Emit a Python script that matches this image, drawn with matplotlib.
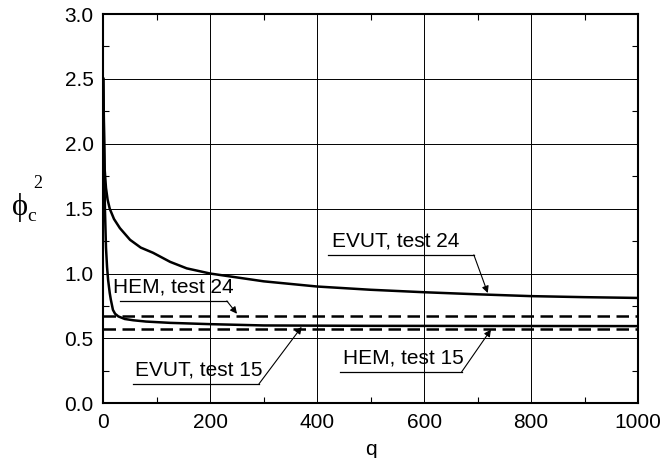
import matplotlib
matplotlib.use('Agg')
import matplotlib.pyplot as plt
from matplotlib.ticker import MultipleLocator

plt.rcParams['font.family'] = ['Liberation Sans', 'DejaVu Sans']

# EVUT, test 24 (solid)
q_evut24 = [0, 1, 2.6, 5, 8, 12, 20, 31, 50, 70, 93, 125, 156, 200,
            300, 400, 500, 600, 700, 800, 900, 1000]
phi_evut24 = [2.5, 2.2, 1.8, 1.66, 1.57, 1.5, 1.42, 1.35, 1.26, 1.2, 1.16,
              1.09, 1.04, 1.0, 0.94, 0.9, 0.875, 0.856, 0.84, 0.826, 0.818, 0.812]

# EVUT, test 15 (solid)
q_evut15 = [0, 1, 2, 3, 5, 7, 9, 12, 14, 18, 22, 28, 40, 56, 80, 125,
            200, 300, 500, 1000]
phi_evut15 = [2.5, 2.1, 1.75, 1.5, 1.2, 1.05, 0.95, 0.85, 0.80, 0.72, 0.69,
              0.67, 0.65, 0.64, 0.63, 0.62, 0.61, 0.60, 0.597, 0.595]

# HEM results (dashed, constant)
q_hem = [0, 1000]
phi_hem24 = [0.673, 0.673]
phi_hem15 = [0.575, 0.575]

xticks = [0, 200, 400, 600, 800, 1000]
yticks = [0.0, 0.5, 1.0, 1.5, 2.0, 2.5, 3.0]

fig = plt.figure(figsize=(6.61, 4.58), dpi=100)
ax = fig.add_axes([0.1563, 0.1194, 0.8089, 0.85])

ax.plot(q_evut24, phi_evut24, color='black', lw=1.8, zorder=3)
ax.plot(q_evut15, phi_evut15, color='black', lw=1.8, zorder=3)
ax.plot(q_hem, phi_hem24, color='black', lw=1.8, dashes=(5, 2.6), zorder=3)
ax.plot(q_hem, phi_hem15, color='black', lw=1.8, dashes=(5, 2.6), zorder=3)

ax.set_xlim(0, 1000)
ax.set_ylim(0, 3.0)
ax.set_xticks(xticks)
ax.set_yticks(yticks)
ax.set_yticklabels([f'{v:.1f}' for v in yticks])
ax.xaxis.set_minor_locator(MultipleLocator(100))
ax.yaxis.set_minor_locator(MultipleLocator(0.25))
ax.tick_params(which='both', direction='in', top=True, right=True,
               labelsize=15, pad=7)
ax.tick_params(which='major', length=0)
ax.tick_params(which='minor', length=4, width=0.8)
ax.grid(True, which='major', color='black', lw=0.7)
for s in ax.spines.values():
  s.set_linewidth(1.5)

ax.set_xlabel('q', fontsize=15, labelpad=6)

# y label: phi_c^2
fig.text(0.018, 0.548, '\u03d5', family='Liberation Serif', fontsize=22,
         va='center')
fig.text(0.041, 0.528, 'c', family='Liberation Serif', fontsize=14,
         va='center')
fig.text(0.05, 0.6, '2', family='Liberation Serif', fontsize=13,
         va='center')

# Annotations: underlined labels with leader arrows
arrow = dict(arrowstyle='-|>', color='black', lw=0.8,
             mutation_scale=10, shrinkA=0, shrinkB=0)
labels = [
  ('EVUT, test 24', 428, (420, 693), 1.144, (719, 0.85)),
  ('HEM, test 24', 18, (31, 231), 0.789, (250, 0.69)),
  ('EVUT, test 15', 59, (56, 291), 0.149, (371, 0.589)),
  ('HEM, test 15', 448, (442, 670), 0.241, (725, 0.568)),
]
for text, xt, (x0, x1), y, head in labels:
  ax.plot([x0, x1], [y, y], color='black', lw=0.9, zorder=4)
  ax.text(xt, y + 0.035, text, fontsize=15, ha='left',
          va='bottom', zorder=5)
  ax.annotate('', xy=head, xytext=(x1, y), arrowprops=arrow, zorder=5)

plt.savefig('out.png')
